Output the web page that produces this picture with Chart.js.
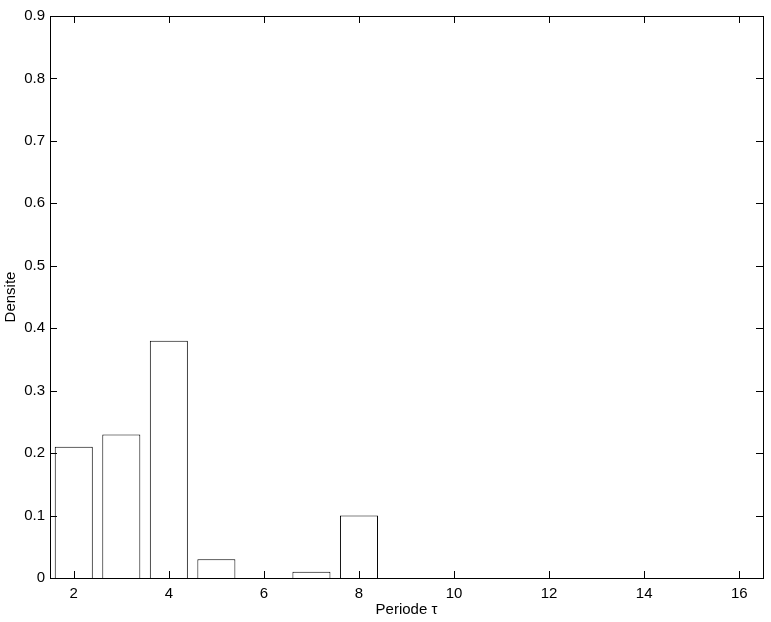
<!DOCTYPE html>
<html>
<head>
<meta charset="utf-8">
<script src="https://cdn.jsdelivr.net/npm/chart.js@4.4.1/dist/chart.umd.min.js"></script>
<style>
html,body{margin:0;padding:0;background:#fff;}
#wrap{width:771px;height:622px;}
</style>
</head>
<body>
<div id="wrap"><canvas id="c" width="771" height="622"></canvas></div>
<script>
const periods = [2, 3, 4, 5, 6, 7, 8];
const densities = [0.21, 0.23, 0.38, 0.03, 0, 0.01, 0.10];
const xTicks = [2, 4, 6, 8, 10, 12, 14, 16];
const yTicks = [0, 0.1, 0.2, 0.3, 0.4, 0.5, 0.6, 0.7, 0.8, 0.9];
const xTitle = 'Periode \u03C4';
const yTitle = 'Densite';

const FONT = "'Liberation Sans', Arial, Helvetica, sans-serif";

const frameTicks = {
  id: 'frameTicks',
  afterDatasetsDraw(chart) {
    const {ctx, chartArea: a, scales} = chart;
    const L = 7;
    ctx.save();
    ctx.strokeStyle = '#000';
    ctx.lineWidth = 1;
    ctx.beginPath();
    xTicks.forEach(v => {
      const px = Math.round(scales.x.getPixelForValue(v)) + 0.5;
      ctx.moveTo(px, a.bottom); ctx.lineTo(px, a.bottom - L);
      ctx.moveTo(px, a.top); ctx.lineTo(px, a.top + L);
    });
    yTicks.forEach(v => {
      const py = Math.round(scales.y.getPixelForValue(v)) + 0.5;
      ctx.moveTo(a.left, py); ctx.lineTo(a.left + L, py);
      ctx.moveTo(a.right, py); ctx.lineTo(a.right - L, py);
    });
    ctx.stroke();
    ctx.strokeRect(Math.round(a.left) + 0.5, Math.round(a.top) + 0.5,
                   Math.round(a.right - a.left), Math.round(a.bottom - a.top));
    ctx.restore();
  }
};

new Chart(document.getElementById('c'), {
  type: 'bar',
  data: {
    datasets: [{
      data: periods.map((p, i) => ({x: p, y: densities[i]})),
      backgroundColor: '#fff',
      borderColor: '#000',
      borderWidth: 1,
      borderSkipped: 'bottom',
      barPercentage: 0.8,
      categoryPercentage: 1.0
    }]
  },
  options: {
    responsive: false,
    animation: false,
    devicePixelRatio: 1,
    layout: {padding: {top: 16, right: 8, left: 0, bottom: 0}},
    plugins: {legend: {display: false}, tooltip: {enabled: false}},
    scales: {
      x: {
        type: 'linear',
        offset: false,
        min: 1.5, max: 16.5,
        afterBuildTicks: s => { s.ticks = xTicks.map(v => ({value: v})); },
        afterFit: s => { s.height = 44; },
        grid: {display: false, drawTicks: false, offset: false},
        border: {display: false},
        ticks: {color: '#000', font: {family: FONT, size: 15}, padding: 7, maxRotation: 0,
                callback: v => String(v)},
        title: {display: true, text: xTitle, color: '#000', font: {family: FONT, size: 15},
                padding: {top: 0, bottom: 3}}
      },
      y: {
        min: 0, max: 0.9,
        afterBuildTicks: s => { s.ticks = yTicks.map(v => ({value: v})); },
        afterFit: s => { s.width = 50; },
        grid: {display: false, drawTicks: false},
        border: {display: false},
        ticks: {color: '#000', font: {family: FONT, size: 15}, padding: 5,
                callback: v => v === 0 ? '0' : Number(v).toFixed(1)},
        title: {display: true, text: yTitle, color: '#000', font: {family: FONT, size: 15},
                padding: {top: 2, bottom: 0}}
      }
    }
  },
  plugins: [frameTicks]
});
</script>
</body>
</html>
